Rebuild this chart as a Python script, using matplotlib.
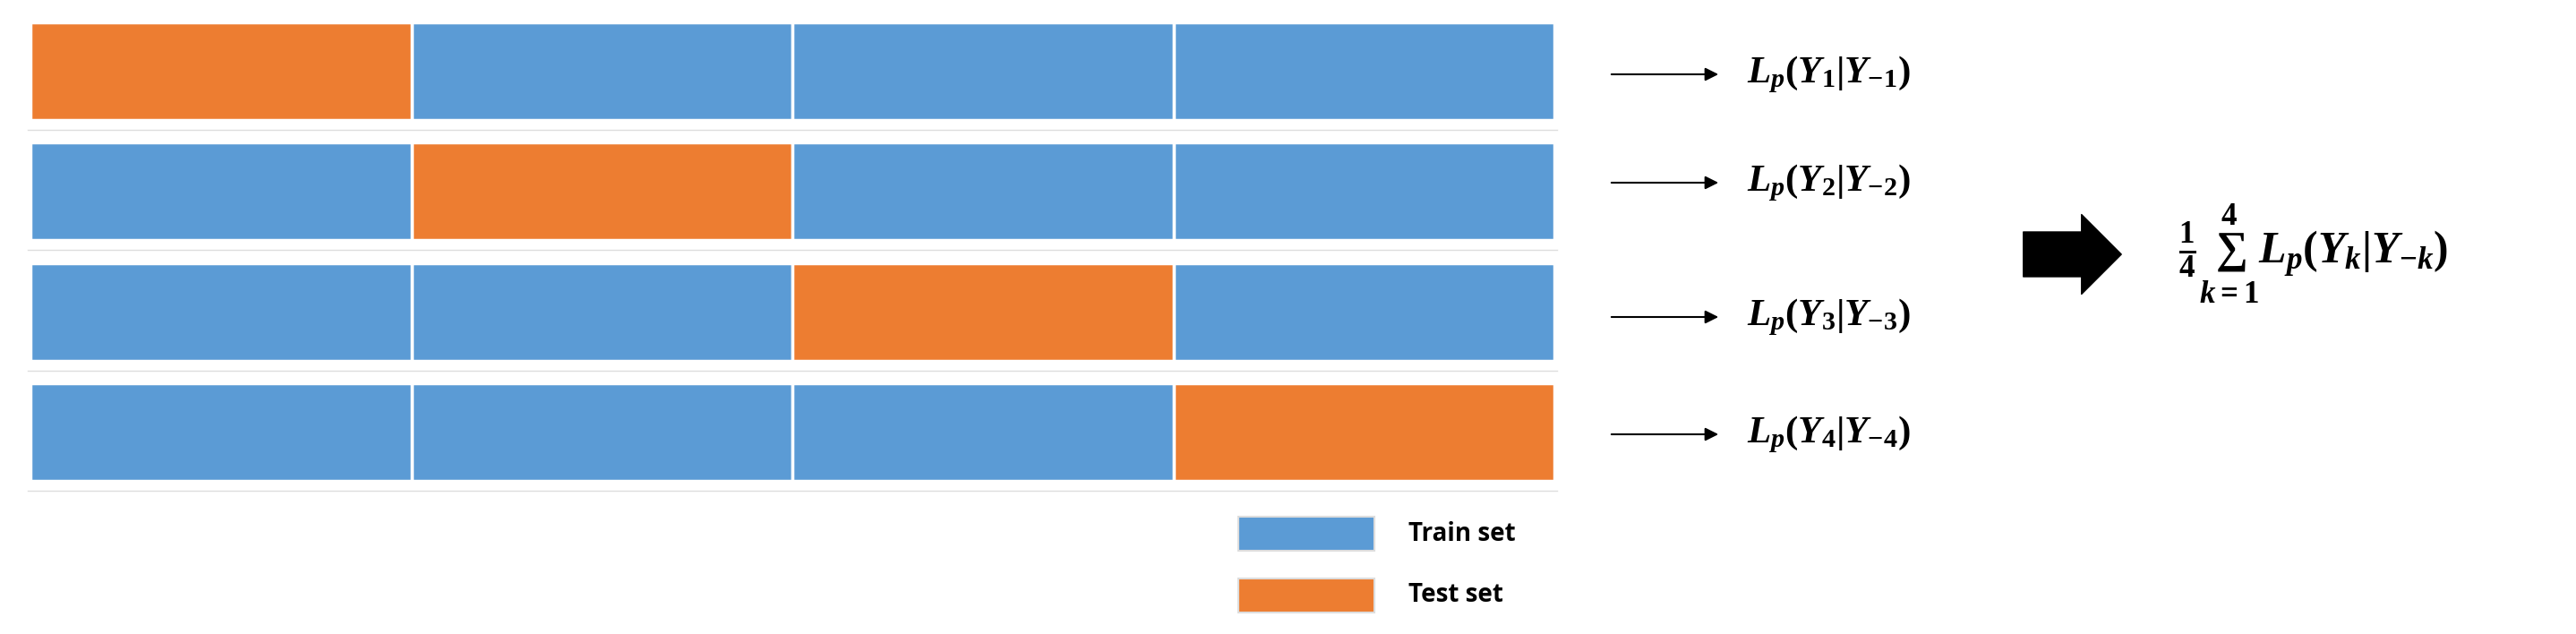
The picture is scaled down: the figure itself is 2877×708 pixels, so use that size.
import matplotlib.pyplot as plt

plt.rcParams['mathtext.fontset'] = 'custom'
plt.rcParams['mathtext.rm'] = 'Liberation Serif:bold'
plt.rcParams['mathtext.it'] = 'Liberation Serif:italic:bold'
plt.rcParams['mathtext.bf'] = 'Liberation Serif:bold'

# data
n_folds = 4
test_fold = [0, 1, 2, 3]          # which block is the test set in each row
fold_labels = [r'$L_p(Y_{%d}|Y_{-%d})$' % (k + 1, k + 1) for k in range(n_folds)]
avg_label = r'$\frac{1}{4}\sum_{k=1}^{4}L_p(Y_k|Y_{-k})$'
legend_labels = ['Train set', 'Test set']

train_c = '#5b9bd5'
test_c = '#ed7d31'

W, H = 2877, 708
fig = plt.figure(figsize=(W / 100, H / 100), dpi=100)
ax = fig.add_axes([0, 0, 1, 1])
ax.set_xlim(0, W)
ax.set_ylim(H, 0)
ax.axis('off')

x0, block_w = 34, 425.5
y0, row_step, row_h = 25, 134.3, 109
label_y = [83, 204, 354, 485]

for r in range(n_folds):
    top = y0 + r * row_step
    for c in range(n_folds):
        col = test_fold[r] == c and test_c or train_c
        ax.barh(top + row_h / 2, block_w, left=x0 + c * block_w, height=row_h,
                color=col, edgecolor='white', linewidth=2.5)
    # faint separator under each row
    ax.plot([x0 - 3, x0 + n_folds * block_w + 3], [top + row_h + 11] * 2,
            color='#dddddd', lw=1)
    ax.annotate('', xy=(1922, label_y[r]), xytext=(1797, label_y[r]),
                arrowprops=dict(arrowstyle='-|>', color='black', lw=1.5,
                                mutation_scale=22))
    ax.text(1951, label_y[r], fold_labels[r], fontsize=31, va='center', ha='left')

# big arrow + averaged formula
ax.annotate('', xy=(2372, 284), xytext=(2257, 284),
            arrowprops=dict(arrowstyle='simple,head_length=0.8,head_width=1.6,tail_width=0.9',
                            color='black', mutation_scale=40))
ax.text(2433, 284, avg_label, fontsize=36, va='center', ha='left')

# legend
for i, (lab, col) in enumerate(zip(legend_labels, [train_c, test_c])):
    yc = 596 + i * 69
    ax.barh(yc, 152, left=1383, height=38, color=col, edgecolor='#dddddd', linewidth=1.5)
    ax.text(1573, yc, lab, fontsize=20, fontweight='bold', va='center', ha='left',
            family='Open Sans')

fig.savefig('out.png', dpi=100)
